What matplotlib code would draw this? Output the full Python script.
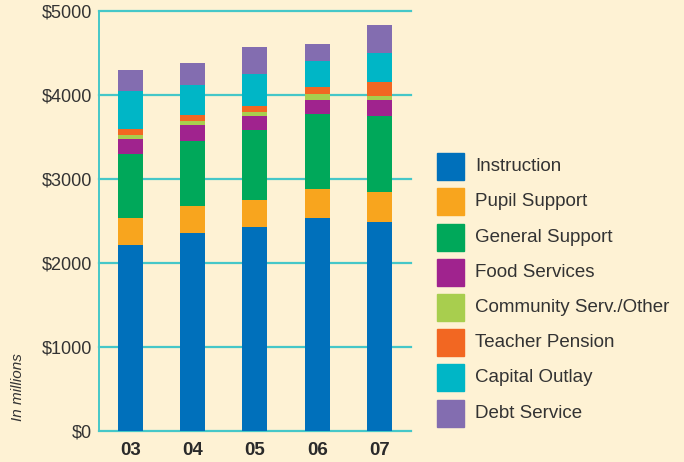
import numpy as np
import matplotlib.pyplot as plt
from matplotlib.patches import Rectangle

plt.rcParams['font.family'] = ['Liberation Sans', 'DejaVu Sans']

years = ['03', '04', '05', '06', '07']
categories = ['Instruction', 'Pupil Support', 'General Support', 'Food Services',
              'Community Serv./Other', 'Teacher Pension', 'Capital Outlay', 'Debt Service']

# spending by category, in millions of dollars
instruction = [2215, 2357, 2429, 2536, 2488]
pupil_support = [321, 321, 321, 344, 357]
general_support = [761, 773, 832, 892, 904]
food_services = [178, 190, 167, 167, 190]
community_other = [47, 48, 47, 71, 48]
teacher_pension = [72, 71, 75, 83, 169]
capital_outlay = [451, 357, 380, 309, 341]
debt_service = [250, 262, 317, 202, 333]

series = [instruction, pupil_support, general_support, food_services,
          community_other, teacher_pension, capital_outlay, debt_service]
colors = ['#0070BB', '#F8A51E', '#00A85A', '#A0238E',
          '#A8CE4E', '#F26722', '#00B6C6', '#836DB0']

bg = '#FEF2D4'
grid_c = '#45C7C8'
text_c = '#333333'

W, H = 684, 462
fig = plt.figure(figsize=(W / 100, H / 100), dpi=100, facecolor=bg)
ax = fig.add_axes([99 / W, 1 - 431.3 / H, (410.7 - 99) / W, (431.3 - 10.7) / H])
ax.set_facecolor(bg)

x = np.arange(len(years))
bottom = np.zeros(len(years))
for vals, col, name in zip(series, colors, categories):
    ax.bar(x, vals, width=0.40, bottom=bottom, color=col, label=name, zorder=3)
    bottom += np.array(vals)

ax.set_xlim(-0.5, 4.5)
ax.set_ylim(0, 5000)
ax.set_yticks(range(0, 5001, 1000))
ax.set_yticklabels(['$%d' % v for v in range(0, 5001, 1000)])
ax.set_xticks(x)
ax.set_xticklabels(years, fontweight='bold')

for v in range(0, 5001, 1000):
    ax.axhline(v, color=grid_c, lw=1.6, zorder=1, clip_on=False)

for s in ['top', 'right', 'bottom']:
    ax.spines[s].set_visible(False)
ax.spines['left'].set_color(grid_c)
ax.spines['left'].set_linewidth(1.4)

ax.tick_params(axis='y', length=0, pad=5, labelsize=13, labelcolor=text_c)
ax.tick_params(axis='x', length=0, pad=8, labelsize=13.5, labelcolor='#2a2a2a')

fig.text(18 / W, 1 - 387 / H, 'In millions', rotation=90, style='italic',
         fontsize=11, color=text_c, ha='center', va='center')

# legend: colour squares with labels, one row per category
sq = 27
row_tops = [153.3, 188.3, 224, 259, 294, 329, 364, 399.5]
for top, col, name in zip(row_tops, colors, categories):
    fig.patches.append(Rectangle((437 / W, 1 - (top + sq) / H), sq / W, sq / H,
                                 transform=fig.transFigure, color=col))
    fig.text(475 / W, 1 - (top + sq / 2) / H, name, fontsize=13.5, color=text_c,
             ha='left', va='center')

fig.savefig('out.png', dpi=100, facecolor=bg)
